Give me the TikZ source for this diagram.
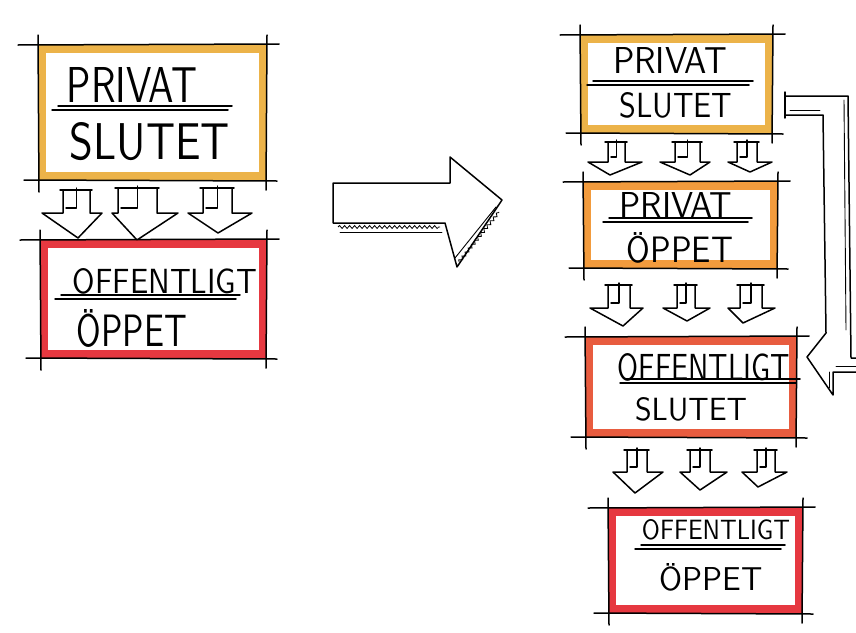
\documentclass[tikz,border=0pt]{standalone}
\usepackage{fontspec}
\usepackage{graphicx}
\usetikzlibrary{decorations.pathmorphing}
\definecolor{gold}{HTML}{E9A62A}
\definecolor{orng}{HTML}{F08A1C}
\definecolor{redor}{HTML}{E4401E}
\definecolor{rd}{HTML}{E2161F}
\tikzset{
  ink/.style={black, line width=1.5pt, line cap=round, line join=round},
  thin ink/.style={black, line width=0.9pt, line cap=round},
  band/.style={line width=8pt, opacity=0.85},
  lbl/.style={inner sep=0pt, text=black},
  hatch/.style={black, line width=0.8pt, decorate, decoration={snake, amplitude=1.5pt, segment length=5pt}}
}
\newcommand\hw[3]{\resizebox{#1pt}{#2pt}{\sffamily #3}}
% sketch box: colour, x1, y1, x2, y2
\newcommand\skbox[5]{%
  \draw[band,#1] ({#2+4},{#3+4}) rectangle ({#4-4},{#5-4});
  \draw[ink] ({#2-20},#3) -- ({#4+12},{#3-1});
  \draw[ink] ({#2-14},#5) -- ({#4+10},{#5+1});
  \draw[ink] (#2,{#3-10}) -- ({#2+1},{#5+12});
  \draw[ink] (#4,{#3-10}) -- ({#4-1},{#5+10});
}
% double underline: y, x1, x2
\newcommand\dunder[3]{%
  \draw[ink] ({#2+6},{#1-2}) -- (#3,{#1-2});
  \draw[ink] (#2,{#1+2}) -- ({#3-4},{#1+2});
}
% down block arrow: xl, xr, ytop, hl, hr, yhead, tipx, tipy
\newcommand\darr[8]{%
  \draw[ink] ({#1-3},#3) -- ({#2+2},#3);
  \draw[ink] (#1,#3) -- (#1,#6) -- (#4,#6) -- (#7,#8) -- (#5,#6) -- (#2,#6) -- (#2,#3);
  \draw[ink] ({(#1+#2)/2},{#3-2}) -- ({(#1+#2)/2},{#6-5}) -- ({#1+3},{#6-5});
}
\begin{document}
\begin{tikzpicture}[x=1pt,y=-1pt]
\useasboundingbox[fill=white] (0,0) rectangle (856,632);

% ---------- left column ----------
\skbox{gold}{38}{45}{267}{180}
\node[lbl] (l1a) at (132,85) {\hw{130}{35}{PRIVAT}};
\dunder{108}{52}{232}
\node[lbl] (l1b) at (150,142) {\hw{160}{37}{SLUTET}};

\darr{63}{90}{190}{42}{102}{213}{78}{238}
\darr{118}{157}{188}{112}{178}{213}{137}{240}
\darr{203}{232}{188}{188}{252}{213}{218}{233}

\skbox{rd}{40}{240}{267}{358}
\node[lbl] (l2a) at (165,281) {\hw{184}{25}{OFFENTLIGT}};
\dunder{297}{55}{240}
\node[lbl] (l2b) at (132,328) {\hw{110}{37}{ÖPPET}};

% ---------- middle arrow ----------
\draw[ink] (333,183) -- (450,183) -- (450,157) -- (502,200) -- (457,267) -- (445,223) -- (333,223) -- cycle;
\draw[thin ink] (340,232) -- (442,232);
\draw[hatch] (338,227) -- (440,227);
\draw[thin ink] (455,258) -- (496,207);
\draw[hatch] (459,262) -- (499,212);

% ---------- right column ----------
\skbox{gold}{580}{35}{773}{133}
\node[lbl] (r1a) at (670,60) {\hw{114}{26}{PRIVAT}};
\dunder{83}{587}{753}
\node[lbl] (r1b) at (676,105) {\hw{113}{25}{SLUTET}};

\darr{608}{625}{142}{588}{642}{162}{610}{175}
\darr{675}{700}{142}{660}{710}{162}{690}{175}
\darr{737}{757}{142}{728}{772}{162}{750}{172}

\skbox{orng}{583}{182}{778}{268}
\node[lbl] (r2a) at (676,205) {\hw{113}{25}{PRIVAT}};
\dunder{220}{603}{752}
\node[lbl] (r2b) at (680,248) {\hw{106}{30}{ÖPPET}};

\darr{608}{630}{285}{590}{643}{308}{623}{326}
\darr{677}{695}{285}{663}{710}{308}{687}{321}
\darr{740}{762}{285}{728}{775}{308}{743}{323}

\skbox{redor}{585}{337}{797}{437}
\node[lbl] (r3a) at (704,367) {\hw{172}{27}{OFFENTLIGT}};
\dunder{381}{620}{800}
\node[lbl] (r3b) at (691,409) {\hw{112}{23}{SLUTET}};

\darr{627}{647}{450}{613}{663}{472}{635}{493}
\darr{690}{710}{450}{680}{727}{472}{700}{490}
\darr{757}{775}{450}{742}{787}{472}{758}{487}

\skbox{rd}{608}{508}{803}{613}
\node[lbl] (r4a) at (716,530) {\hw{148}{20}{OFFENTLIGT}};
\dunder{547}{635}{785}
\node[lbl] (r4b) at (711,577) {\hw{103}{27}{ÖPPET}};

% ---------- L-shaped return arrow ----------
\draw[ink] (785,92) -- (785,118);
\draw[ink] (785,96) -- (848,96) -- (851,358) -- (856,358);
\draw[ink] (785,115) -- (823,115) -- (826,333) -- (807,357) -- (833,395) -- (833,372) -- (856,372);
\draw[thin ink] (790,110) -- (820,110);
\draw[thin ink] (844,100) -- (846,330);
\draw[thin ink] (836,366) -- (856,366);
\draw[thin ink] (829,372) -- (829,388);
\end{tikzpicture}
\end{document}
